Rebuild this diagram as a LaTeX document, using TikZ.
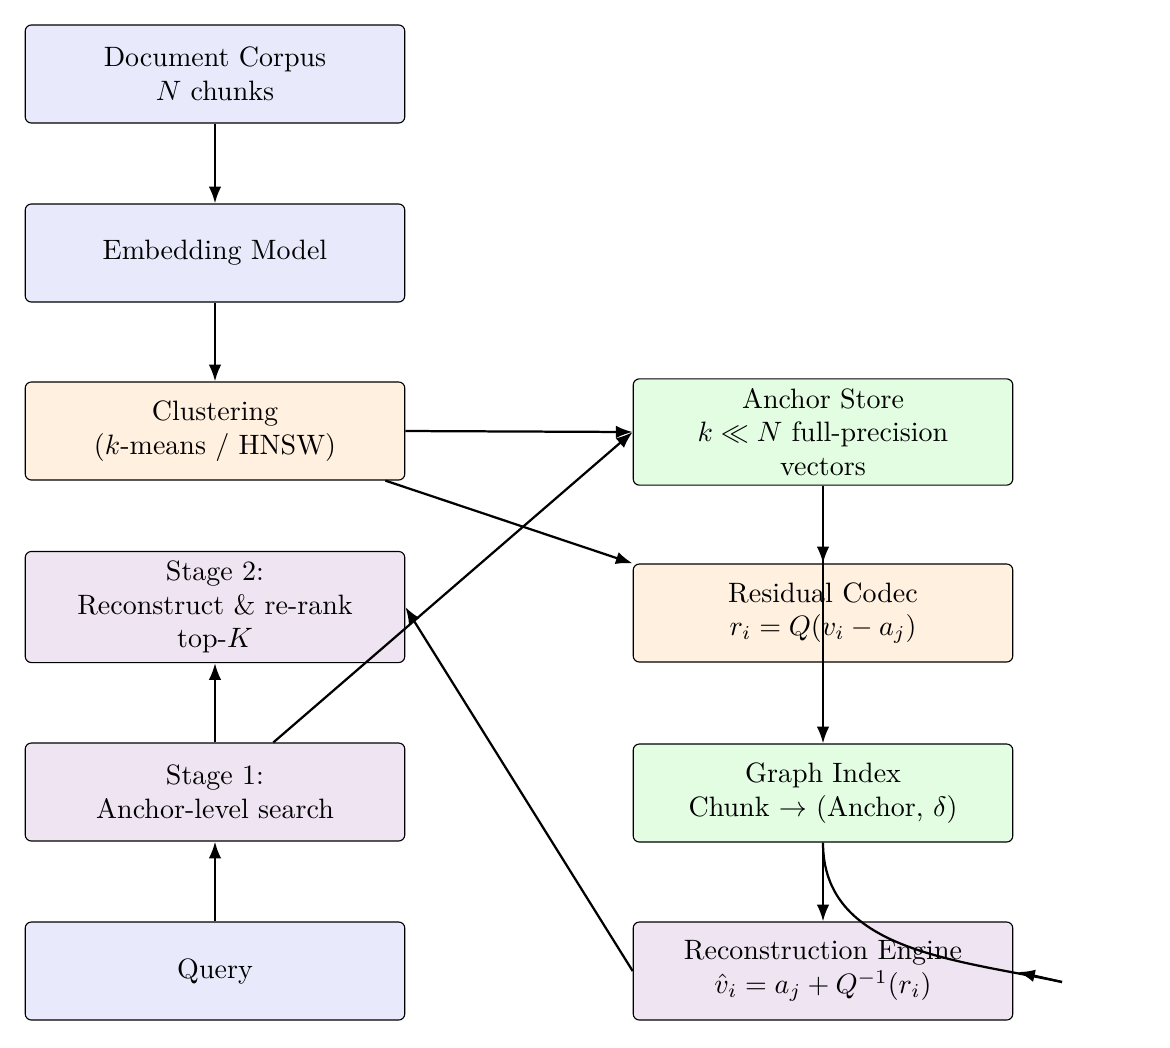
\documentclass[tikz,border=0pt]{standalone}
\usetikzlibrary{arrows.meta,positioning}
\definecolor{inbox}{HTML}{E8EAFC}
\definecolor{procbox}{HTML}{FFF0E0}
\definecolor{storebox}{HTML}{E2FDE2}
\definecolor{querybox}{HTML}{EFE4F1}
\tikzset{
  block/.style={draw=black, rounded corners=2.2pt, minimum width=135.5pt, minimum height=35pt, align=center},
  flow/.style={-{Latex[length=6pt,width=4.5pt]}, thick}
}
\begin{document}
\begin{tikzpicture}[x=0.357pt, y=-0.357pt]
        \useasboundingbox (0,0) rectangle (1170,1047);

        \node (corpus) at (215,74)[block, fill=inbox] {Document Corpus\\\(N\) chunks};
        \node (embed) at (215,253)[block, fill=inbox] {Embedding Model};
        \node (cluster) at (215,431)[block, fill=procbox] {Clustering\\(\(k\)-means / HNSW)};
        \node (stagetwo) at (215,607)[block, fill=querybox, minimum height=39pt] {Stage 2:\\Reconstruct \& re-rank\\top-\(K\)};
        \node (stageone) at (215,792)[block, fill=querybox] {Stage 1:\\Anchor-level search};
        \node (query) at (215,971)[block, fill=inbox] {Query};

        \node (anchor) at (823,432)[block, fill=storebox, minimum height=37.5pt] {Anchor Store\\\(k \ll N\) full-precision\\vectors};
        \node (residual) at (823,613)[block, fill=procbox] {Residual Codec\\\(r_i = Q(v_i - a_j)\)};
        \node (graph) at (823,793)[block, fill=storebox] {Graph Index\\Chunk \(\rightarrow\) (Anchor, \(\delta\))};
        \node (recon) at (823,971)[block, fill=querybox] {Reconstruction Engine\\\(\hat{v}_i = a_j + Q^{-1}(r_i)\)};

        \coordinate (loopend) at (1062,982);
        \coordinate (looptip) at (1018,972);

        \draw[flow] (corpus) -- (embed);
        \draw[flow] (embed) -- (cluster);
        \draw[flow] (cluster.east) -- (anchor.west);
        \draw[flow] (cluster.south east) ++(-20,0) -- (residual.north west);
        \draw[flow] (stageone.north east) ++(-132,0) -- (anchor.west);
        \draw[flow] (recon.west) -- (stagetwo.east);
        \draw[flow] (stageone) -- (stagetwo);
        \draw[flow] (query) -- (stageone);
        \draw[flow] (anchor) -- (residual);
        \draw[flow] (anchor) -- (graph);
        \draw[flow] (graph.south) -- (recon);
        \draw[thick] (graph.south) to[out=-90, in=168] (loopend);
        \draw[flow] (loopend) -- (looptip);
    \end{tikzpicture}
\end{document}
